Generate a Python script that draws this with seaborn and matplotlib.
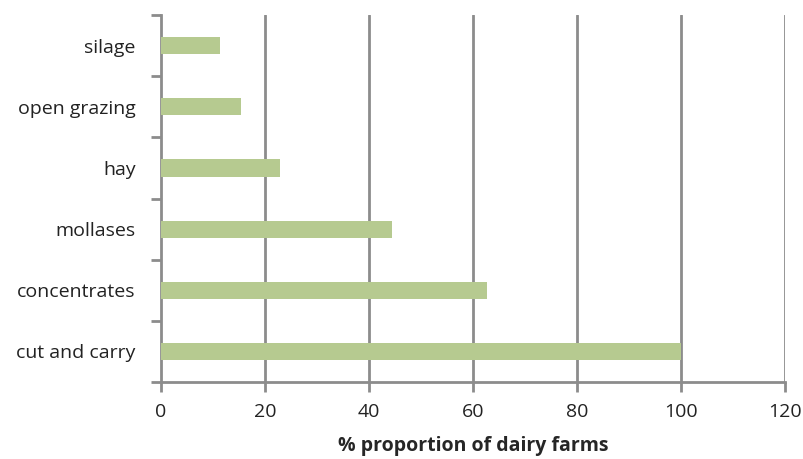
import numpy as np
import pandas as pd
import matplotlib
matplotlib.use("Agg")
import matplotlib.pyplot as plt
import seaborn as sns
from matplotlib.ticker import FixedLocator

# data
feeds = ["silage", "open grazing", "hay", "mollases", "concentrates", "cut and carry"]
labels = ["silage", "open grazing", "hay", "mollases", "concentrates", "cut and carry"]
share = [11.3, 15.4, 23.0, 44.4, 62.7, 100.0]
xticks = [0, 20, 40, 60, 80, 100, 120]

df = pd.DataFrame({"feed": feeds, "share": share})

sns.set_style("white")
plt.rcParams["font.family"] = ["Open Sans", "DejaVu Sans"]

fig = plt.figure(figsize=(8.04, 4.59), dpi=100)
ax = fig.add_axes([0.200, 0.168, 0.776, 0.799])

sns.barplot(data=df, x="share", y="feed", order=feeds, color="#b6ca90",
            saturation=1, width=0.28, linewidth=0, ax=ax, zorder=3)

gray = "#8c8c8c"
ax.set_xlim(0, 120)
ax.set_ylim(5.5, -0.5)
ax.set_xticks(xticks)
ax.set_xticklabels([str(t) for t in xticks], fontsize=14, color="#222222")
ax.set_yticks(range(len(labels)))
ax.set_yticklabels(labels, fontsize=14, color="#222222")
ax.yaxis.set_minor_locator(FixedLocator(np.arange(-0.5, 6, 1)))
ax.tick_params(axis="y", which="both", left=True)
ax.tick_params(axis="x", which="both", bottom=True)
ax.tick_params(axis="y", which="major", length=0, pad=18)
ax.tick_params(axis="y", which="minor", length=7, width=2, color=gray, direction="out")
ax.tick_params(axis="x", which="major", length=7, width=2, color=gray, direction="out", pad=8)

for t in xticks[1:]:
    ax.axvline(t, color=gray, lw=2, zorder=1)

for side in ["top", "right"]:
    ax.spines[side].set_visible(False)
for side in ["left", "bottom"]:
    ax.spines[side].set_color(gray)
    ax.spines[side].set_linewidth(2)

ax.set_xlabel("% proportion of dairy farms", fontsize=14, fontweight="bold", labelpad=11)
ax.set_ylabel("")

fig.savefig("out.png", dpi=100)
